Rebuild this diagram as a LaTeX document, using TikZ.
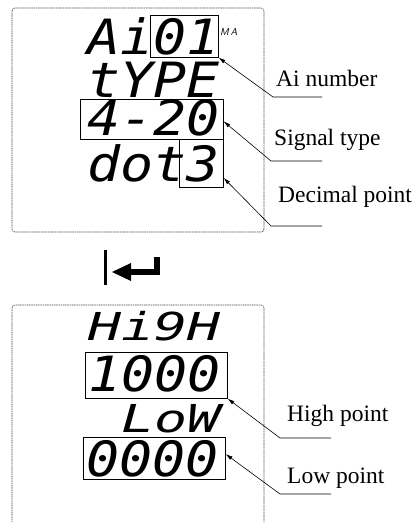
\documentclass[tikz,border=0pt]{standalone}
\usepackage{fontspec}
\usepackage{graphicx}
\setmainfont{Liberation Serif}
\newfontfamily\lcdfont{DejaVu Sans Mono}
\usetikzlibrary{calc,arrows.meta}
\tikzset{
  panel/.style={draw=gray!60!black, line width=0.6pt, dash pattern=on 1.2pt off 0.6pt, rounded corners=3pt},
  lcd/.style={anchor=base west, inner sep=0pt, font=\lcdfont\itshape\fontsize{45}{45}\selectfont},
  lcdsmall/.style={anchor=base west, inner sep=0pt, font=\lcdfont\itshape\fontsize{37}{37}\selectfont},
  segbox/.style={draw, line width=0.6pt, inner sep=0pt, anchor=north west},
  lbl/.style={anchor=base west, inner sep=0pt, font=\fontsize{23.5}{26}\selectfont},
  leader/.style={draw, line width=0.6pt, {Latex[length=7pt,width=4pt]}-},
}
\begin{document}
\begin{tikzpicture}[x=1pt,y=-1pt]
\useasboundingbox (0,0) rectangle (414,522);
% panels
\draw[panel] (12,8) rectangle (264,232);
\draw[panel] (12,522) -- (12,305) -- (264,305) -- (264,522);
% top display text
\node[lcd] (tai) at (87,54) {\scalebox{1.22}[1.08]{Ai01}};
\node[anchor=base west, inner sep=0pt, font=\sffamily\itshape\fontsize{10}{10}\selectfont] (tma) at (220,35) {M\,A};
\node[lcd] (ttype) at (87,97) {\scalebox{1.22}[1.08]{tYPE}};
\node[lcd] (tsig) at (87,135) {\scalebox{1.22}[1.08]{4-20}};
\node[lcd] (tdot) at (87,181) {\scalebox{1.22}[1.08]{dot3}};
% top boxes
\node[segbox, minimum width=68pt, minimum height=42pt] (bai) at (150,15) {};
\node[segbox, minimum width=143pt, minimum height=40pt] (bsig) at (80,99) {};
\node[segbox, minimum width=44pt, minimum height=48pt] (bdot) at (179,139) {};
% labels top
\node[lbl] (lai) at (276,86) {Ai number};
\node[lbl] (lsig) at (274,145) {Signal type};
\node[lbl] (ldot) at (278,202) {Decimal point};
\coordinate (kai) at (273,97);  \coordinate (eai) at (322,97);
\coordinate (ksig) at (271,161); \coordinate (esig) at (322,161);
\coordinate (kdot) at (271,226); \coordinate (edot) at (322,226);
\draw[leader] (bai.south east) -- (kai) -- (eai);
\draw[leader] ($(bsig.north east)!0.55!(bsig.south east)$) -- (ksig) -- (esig);
\draw[leader] ($(bdot.north east)!0.8!(bdot.south east)$) -- (kdot) -- (edot);
% return symbol
\draw[line width=3pt] (105,250) -- (105,285);
\draw[line width=6pt, line join=miter] (126,272) -- (157,272) -- (157,257);
\fill (112,272) -- (131,263) -- (131,281) -- cycle;
% bottom display text
\node[lcdsmall] (thigh) at (88,340) {\scalebox{1.48}[1.04]{Hi9H}};
\node[lcd] (thv) at (88,391) {\scalebox{1.22}[1.08]{1000}};
\node[lcdsmall] (tlow) at (121,432) {\scalebox{1.48}[1.04]{LoW}};
\node[lcd] (tlv) at (86,476) {\scalebox{1.22}[1.08]{0000}};
% bottom boxes
\node[segbox, minimum width=142pt, minimum height=46pt] (bhv) at (85,352) {};
\node[segbox, minimum width=142pt, minimum height=42pt] (blv) at (83,437) {};
% labels bottom
\node[lbl] (lhigh) at (287,421) {High point};
\node[lbl] (llow) at (287,483) {Low point};
\coordinate (khigh) at (280,438); \coordinate (ehigh) at (331,438);
\coordinate (klow) at (280,494); \coordinate (elow) at (331,494);
\draw[leader] (bhv.south east) -- (khigh) -- (ehigh);
\draw[leader] ($(blv.north east)!0.4!(blv.south east)$) -- (klow) -- (elow);
\end{tikzpicture}
\end{document}
